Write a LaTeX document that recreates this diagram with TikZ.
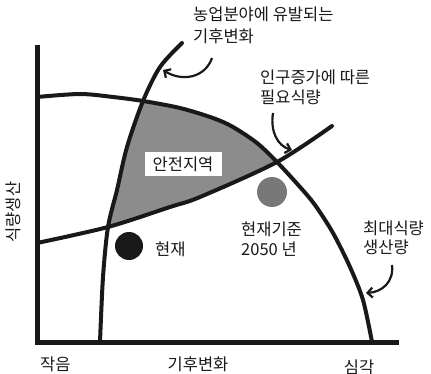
\documentclass[tikz,border=0pt]{standalone}
\usepackage{fontspec}
\setmainfont{Noto Sans CJK KR}
\usetikzlibrary{arrows.meta}
\definecolor{safegray}{gray}{0.55}
\definecolor{dotgray}{gray}{0.47}
\definecolor{ink}{gray}{0.1}
\begin{document}
\begin{tikzpicture}[x=1pt,y=-1pt,
  curve/.style={line width=4pt, draw=ink, line cap=round, line join=round},
  axis/.style={line width=5pt, draw=ink, line join=miter},
  lbl/.style={font=\fontsize{16.5}{20}\selectfont, text=ink, inner sep=0pt, align=left},
  callout/.style={line width=2.2pt, draw=ink, -{Straight Barb[length=5pt,width=10pt]}}
]
\useasboundingbox (0,0) rectangle (431,374);

% safe zone fill
\begin{scope}
  \clip plot[smooth] coordinates {(37,97) (80,94) (113,97) (143,101) (180,108) (213,118) (233,127) (257,143) (277,162) (300,187) (315,205) (333,233) (350,267) (363,300) (372,342)} -- (372,374) -- (0,374) -- (0,97) -- cycle;
  \clip plot[smooth] coordinates {(182,43) (160,67) (143,101) (127,147) (117,190) (108,227) (103,277) (100,342)} -- (100,374) -- (431,374) -- (431,0) -- (182,0) -- cycle;
  \clip plot[smooth] coordinates {(37,243) (108,227) (170,207) (200,197) (277,162) (332,126)} -- (431,0) -- (0,0) -- (0,243) -- cycle;
  \fill[safegray] (0,0) rectangle (431,374);
\end{scope}

% axes
\draw[axis] (37,45) -- (37,342) -- (399,342);

% curves
\draw[curve] plot[smooth] coordinates {(37,97) (80,94) (113,97) (143,101) (180,108) (213,118) (233,127) (257,143) (277,162) (300,187) (315,205) (333,233) (350,267) (363,300) (372,342)};
\draw[curve] plot[smooth] coordinates {(182,43) (160,67) (143,101) (127,147) (117,190) (108,227) (103,277) (100,342)};
\draw[curve] plot[smooth] coordinates {(37,243) (108,227) (170,207) (200,197) (277,162) (332,126)};

% dots
\fill[ink] (129,246) circle (14);
\fill[dotgray] (272,192) circle (15);

% safe zone label
\node[lbl, fill=white, minimum width=77pt, minimum height=24pt, align=center] (safe) at (183,164) {안전지역};

% labels (base anchor = baseline of the last line)
\node[lbl, anchor=base west] (climlbl) at (193,43) {농업분야에 유발되는\\[2pt]기후변화};
\node[lbl, anchor=base west] (poplbl) at (260,104) {인구증가에 따른\\필요식량};
\node[lbl, anchor=base west] (now) at (155,255) {현재};
\node[lbl, anchor=base west] (future) at (241,255) {현재기준\\2050 년};
\node[lbl, anchor=base west] (maxlbl) at (363,253) {최대식량\\[-1pt]생산량};
\node[lbl, anchor=base west] (small) at (40,370) {작음};
\node[lbl, anchor=base] (xlbl) at (198,370) {기후변화};
\node[lbl, anchor=base] (severe) at (359,373) {심각};
\node[lbl, rotate=90] (ylbl) at (13,212) {식량생산};

% callout arrows
\coordinate (a1s) at (212,58);
\coordinate (a1e) at (163,70);
\draw[callout] (a1s) .. controls (205,78) and (182,82) .. (a1e);
\coordinate (a2s) at (273,113);
\coordinate (a2e) at (292,150);
\draw[callout] (a2s) .. controls (270,132) and (278,146) .. (a2e);
\coordinate (a3s) at (392,265);
\coordinate (a3e) at (366,293);
\draw[callout] (a3s) .. controls (394,282) and (382,292) .. (a3e);
\end{tikzpicture}
\end{document}
